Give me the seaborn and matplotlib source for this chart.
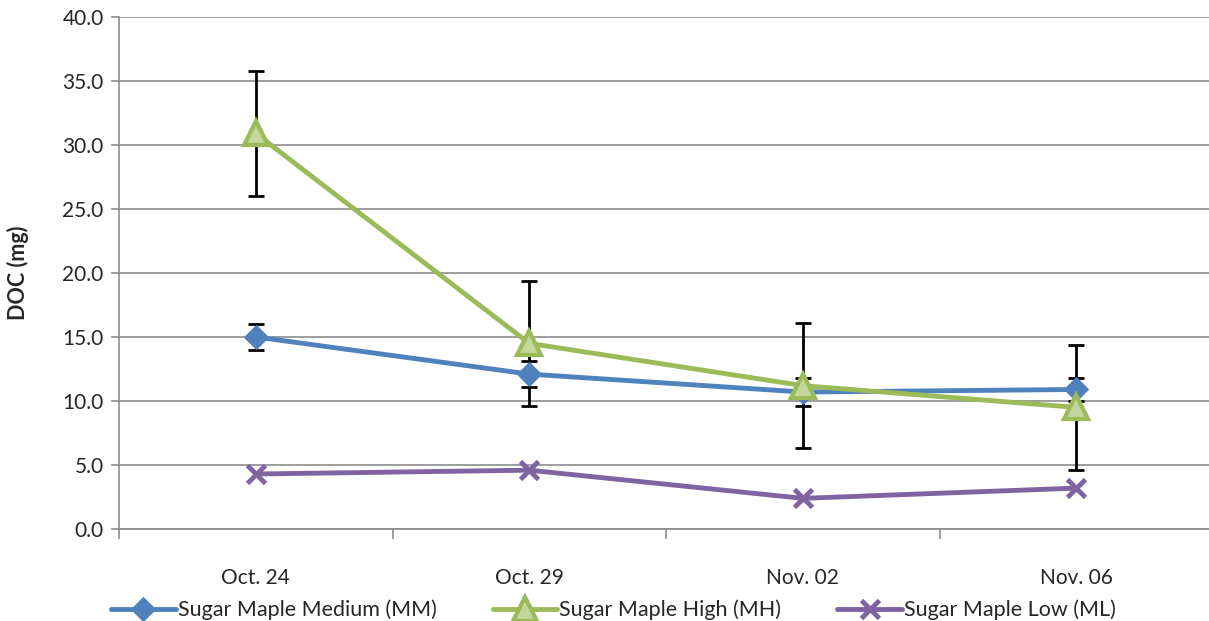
import pandas as pd
import seaborn as sns
import matplotlib
matplotlib.use("Agg")
import matplotlib.pyplot as plt

dates = ["Oct. 24", "Oct. 29", "Nov. 02", "Nov. 06"]

mm_values = [15.0, 12.1, 10.7, 10.9]
mm_err = [1.0, 1.0, 1.1, 0.9]
mh_values = [30.9, 14.5, 11.2, 9.5]
mh_err = [4.9, 4.9, 4.9, 4.9]
ml_values = [4.3, 4.6, 2.4, 3.2]

names = ["Sugar Maple Medium (MM)", "Sugar Maple High (MH)", "Sugar Maple Low (ML)"]
colors = ["#4F81BD", "#9BBB59", "#8064A2"]


def main():
    sns.set_theme(style="white")
    plt.rcParams['font.family'] = ['Lato', 'DejaVu Sans']

    fig = plt.figure(figsize=(12.09, 6.21), dpi=100)
    ax = fig.add_axes([0.0984, 0.148, 0.905, 0.825])

    x = list(range(len(dates)))
    df = pd.DataFrame({"x": x, "MM": mm_values, "MH": mh_values, "ML": ml_values})

    # error bars (behind the lines)
    ax.errorbar(x, mm_values, yerr=mm_err, fmt="none", ecolor="black",
                elinewidth=2, capsize=6, capthick=2, zorder=2)
    ax.errorbar(x, mh_values, yerr=mh_err, fmt="none", ecolor="black",
                elinewidth=2, capsize=6, capthick=2, zorder=2)

    sns.lineplot(data=df, x="x", y="MM", ax=ax, color=colors[0], lw=3.5,
                 marker="D", markersize=12, markeredgecolor=colors[0],
                 label=names[0], zorder=3)
    sns.lineplot(data=df, x="x", y="MH", ax=ax, color=colors[1], lw=3.5,
                 marker="^", markersize=17, markerfacecolor="#C3D69B",
                 markeredgecolor=colors[1], markeredgewidth=3,
                 label=names[1], zorder=3)
    sns.lineplot(data=df, x="x", y="ML", ax=ax, color=colors[2], lw=3.5,
                 marker="x", markersize=13, markeredgecolor=colors[2],
                 markeredgewidth=3.5, label=names[2], zorder=3)

    ax.set_xlim(-0.5, 3.5)
    ax.set_ylim(0, 40)
    ax.set_yticks([i * 5 for i in range(9)])
    ax.set_yticklabels(["{:.1f}".format(i * 5) for i in range(9)], fontsize=15)
    ax.yaxis.grid(True, color="#8c8c8c", lw=1.2)
    ax.xaxis.grid(False)

    # category labels in the middle, tick marks at boundaries
    ax.set_xticks([-0.5, 0.5, 1.5, 2.5, 3.5])
    ax.set_xticklabels([])
    ax.set_xticks(x, minor=True)
    ax.set_xticklabels(dates, minor=True, fontsize=15)
    ax.tick_params(axis="x", which="major", direction="out", length=7,
                   width=1.2, color="#8c8c8c", bottom=True)
    ax.tick_params(axis="x", which="minor", length=0, pad=28)
    ax.tick_params(axis="y", which="major", direction="out", length=6,
                   width=1.2, color="#8c8c8c", left=True, pad=5)

    for side in ["top", "right"]:
        ax.spines[side].set_visible(False)
    for side in ["left", "bottom"]:
        ax.spines[side].set_color("#8c8c8c")
        ax.spines[side].set_linewidth(1.2)

    ax.set_xlabel("")
    ax.set_ylabel("DOC (mg)", fontsize=15.5, fontweight="bold", labelpad=24)

    ax.legend(loc="upper center", bbox_to_anchor=(0.452, -0.1), ncol=3,
              frameon=False, fontsize=15.5, handlelength=3.0, handletextpad=0.1,
              columnspacing=2.6)

    fig.savefig("out.png", dpi=100)


if __name__ == "__main__":
    main()
